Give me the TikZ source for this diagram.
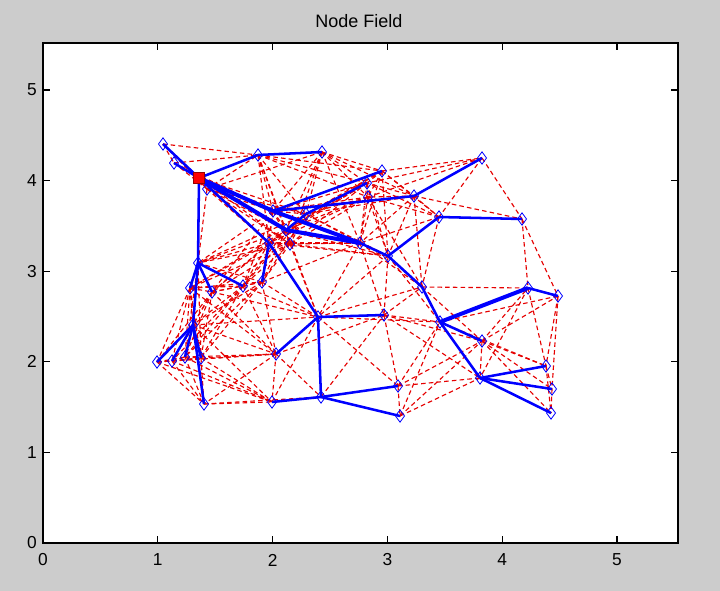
\documentclass[tikz,border=0pt]{standalone}
\usepackage{fontspec}
\setmainfont{Liberation Sans}
\usetikzlibrary{shapes.geometric}
\definecolor{figbg}{RGB}{204,204,204}
\definecolor{mblue}{RGB}{0,0,255}
\definecolor{mred}{RGB}{230,0,0}
\definecolor{sinkedge}{RGB}{150,0,0}
\tikzset{
 mk/.style={draw=mblue, diamond, minimum width=7pt, minimum height=9.5pt, inner sep=0pt, line width=0.6pt},
 sinkmk/.style={draw=sinkedge, fill=red, minimum size=8pt, inner sep=0pt, line width=0.5pt},
 link/.style={mblue, line width=1.9pt},
 thicklink/.style={mblue, line width=3pt},
 rangeline/.style={mred, line width=0.85pt, dash pattern=on 3.4pt off 2.4pt},
 ticklab/.style={font=\fontsize{13}{15}\selectfont, inner sep=0pt},
 axisline/.style={black, line width=0.8pt},
}
\def\NX{{199,163,174,207,258,322,382,482,414,439,522,367,368,306,273,286,290,269,360,388,198,190,212,243,262,193,157,172,185,201,276,204,272,321,318,384,398,400,422,440,482,528,558,480,546,552,551}}
\def\NY{{178,144,163,189,155,152,171,158,196,217,219,183,197,214,211,230,244,243,243,256,263,288,292,286,282,325,362,361,357,358,354,404,402,397,317,315,386,416,287,322,341,288,296,378,366,389,413}}
\begin{document}
\begin{tikzpicture}[x=0.75pt,y=-0.75pt]
\fill[figbg] (0,0) rectangle (720,591);
\useasboundingbox (0,0) rectangle (720,591);
\fill[white] (43,43) rectangle (678,543);
\node[font=\fontsize{13.5}{16}\selectfont, inner sep=0pt] (title) at (359,21) {Node Field};
% node positions
\foreach \i in {1,...,47}{
  \pgfmathsetmacro\px{\NX[\i-1]}
  \pgfmathsetmacro\py{\NY[\i-1]}
  \coordinate (n\i) at (\px,\py);
}
% communication range links
\foreach \i in {1,...,46}{
  \pgfmathtruncatemacro\ii{\i+1}
  \foreach \j in {\ii,...,47}{
    \pgfmathsetmacro\dd{veclen((\NX[\i-1]-\NX[\j-1])/114.8,(\NY[\i-1]-\NY[\j-1])/90.6)}
    \pgfmathtruncatemacro\ok{\dd<1.1 ? 1 : 0}
    \ifnum\ok=1 \draw[rangeline] (n\i) -- (n\j); \fi
  }
}
% routing tree
\foreach \a/\b in {1/2,1/3,1/5,5/6,1/21,1/18,15/7,15/9,14/12,16/14,9/8,19/20,20/10,10/11,20/39,39/40,40/44,42/43,40/41,44/45,44/46,44/47,18/25,18/35,21/22,21/23,21/24,21/26,26/27,26/28,26/29,26/30,26/32,31/35,35/36,35/34,34/33,34/37,34/38}
  \draw[link] (n\a) -- (n\b);
\foreach \a/\b in {1/15,1/16,15/19,16/19,40/42}
  \draw[thicklink] (n\a) -- (n\b);
% markers
\foreach \i in {2,...,47}
  \node[mk] (m\i) at (n\i) {};
\node[sinkmk] (sink) at (n1) {};
% axes
\draw[axisline] (43,43) rectangle (678,543);
\foreach \k in {0,...,5}{
  \pgfmathsetmacro\tx{43+114.8*\k}
  \pgfmathsetmacro\ty{543-90.6*\k}
  \draw[axisline] (\tx,543) -- (\tx,536);
  \draw[axisline] (\tx,43) -- (\tx,50);
  \draw[axisline] (43,\ty) -- (50,\ty);
  \draw[axisline] (678,\ty) -- (671,\ty);
  \node[ticklab] (xl\k) at (\tx,560) {\k};
  \node[ticklab, anchor=east] (yl\k) at (37,\ty) {\k};
}
\end{tikzpicture}
\end{document}
